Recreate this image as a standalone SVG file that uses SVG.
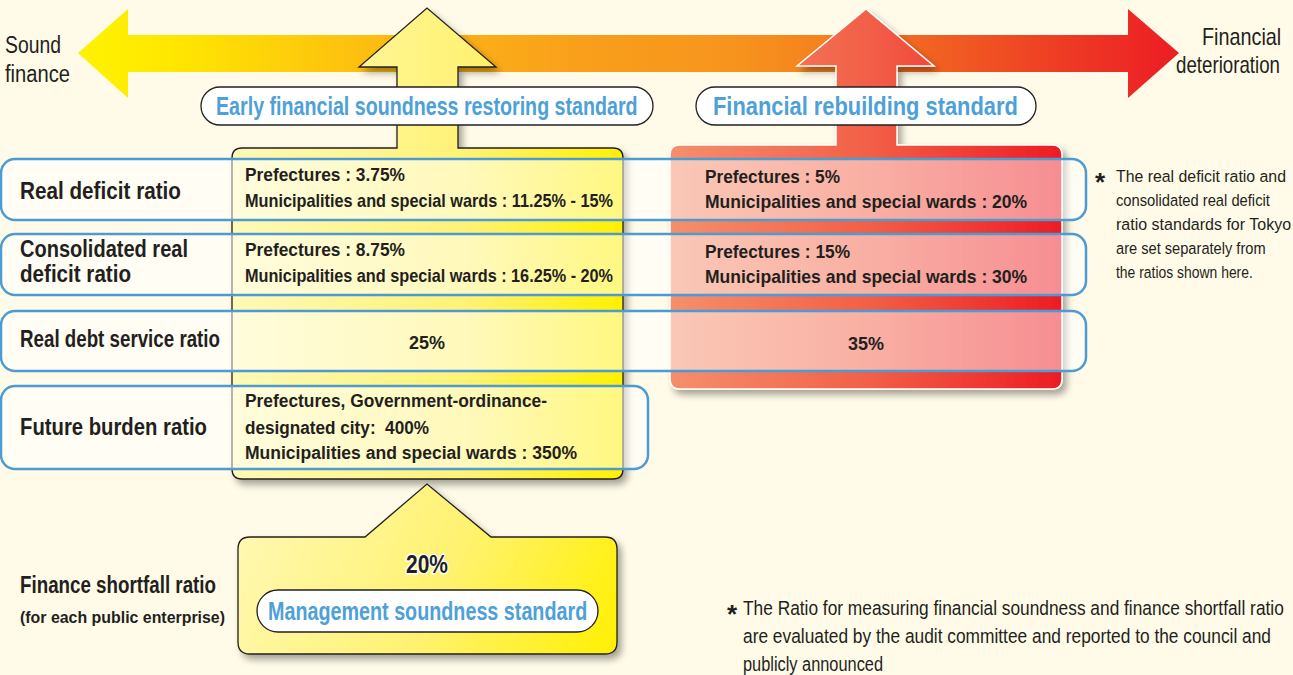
<svg xmlns="http://www.w3.org/2000/svg" width="1293" height="675" viewBox="0 0 1293 675">
<defs>
<linearGradient id="gH" gradientUnits="userSpaceOnUse" x1="78" y1="0" x2="1179" y2="0">
<stop offset="0" stop-color="#FFF200"/>
<stop offset="0.08" stop-color="#FFE800"/>
<stop offset="0.28" stop-color="#FDBA12"/>
<stop offset="0.45" stop-color="#F9A01B"/>
<stop offset="0.6" stop-color="#F7931D"/>
<stop offset="0.7" stop-color="#F47B20"/>
<stop offset="0.8" stop-color="#F15A22"/>
<stop offset="0.9" stop-color="#EE3A24"/>
<stop offset="1" stop-color="#ED1C24"/>
</linearGradient>
<linearGradient id="gY" gradientUnits="userSpaceOnUse" x1="232" y1="0" x2="623" y2="0">
<stop offset="0" stop-color="#FFF9B8"/>
<stop offset="0.6" stop-color="#FFF276"/>
<stop offset="1" stop-color="#FFF000"/>
</linearGradient>
<linearGradient id="gR" gradientUnits="userSpaceOnUse" x1="670" y1="0" x2="1062" y2="0">
<stop offset="0" stop-color="#F58F6C"/>
<stop offset="0.5" stop-color="#F26048"/>
<stop offset="1" stop-color="#ED1C24"/>
</linearGradient>
<linearGradient id="gB" gradientUnits="userSpaceOnUse" x1="238" y1="484" x2="617" y2="654">
<stop offset="0" stop-color="#FFF9B8"/>
<stop offset="0.55" stop-color="#FFF270"/>
<stop offset="1" stop-color="#FFF000"/>
</linearGradient>
<filter id="sh" x="-10%" y="-10%" width="125%" height="125%">
<feDropShadow dx="4" dy="5" stdDeviation="3.5" flood-color="#000" flood-opacity="0.35"/>
</filter>
<style>
.bg{fill:#FFFBE8}
.t{font-family:"Liberation Sans Narrow","Liberation Sans",Arial,sans-serif;fill:#231F20}
.b{font-weight:bold}
.lab{font-size:23px;font-weight:bold}
.val{font-size:18px;font-weight:bold}
.note{font-size:17px}
.note2{font-size:19.5px}
.ast{font-size:26px;font-weight:bold}
.pilltxt{font-family:"Liberation Sans Narrow","Liberation Sans",Arial,sans-serif;font-size:26px;font-weight:bold;fill:#4EA0D8}
.pill{fill:#FFFFFF;stroke:#231F20;stroke-width:1.3}
.row{fill:#FFFFFF;fill-opacity:0.5;stroke:#4B9BD4;stroke-width:2.5}
.dark{stroke:#231F20;stroke-width:1.3}
</style>
</defs>
<rect class="bg" x="0" y="0" width="1293" height="675"/>

<g id="connectors">
<path d="M78,53 L128,9 L128,35 L1128,35 L1128,9 L1179,53 L1128,98 L1128,72 L128,72 L128,98 Z" fill="url(#gH)"/>
</g>

<g id="scale-labels">
<text class="t" x="5" y="53" font-size="23" textLength="56" lengthAdjust="spacingAndGlyphs">Sound</text>
<text class="t" x="5" y="82" font-size="23" textLength="65" lengthAdjust="spacingAndGlyphs">finance</text>
<text class="t" transform="translate(1202,45) scale(0.8,1)" x="0" y="0" font-size="23" textLength="99" lengthAdjust="spacingAndGlyphs">Financial</text>
<text class="t" transform="translate(1176,73) scale(0.8,1)" x="0" y="0" font-size="23" textLength="130" lengthAdjust="spacingAndGlyphs">deterioration</text>
</g>

<g id="early-standard">
<path filter="url(#sh)" class="dark" fill="url(#gY)" d="M242,148 L397,148 L397,67 L359,67 L427,8 L496,67 L458,67 L458,148 L613,148 Q623,148 623,158 L623,469 Q623,479 613,479 L242,479 Q232,479 232,469 L232,158 Q232,148 242,148 Z"/>
<rect class="pill" x="201" y="87" width="452" height="38" rx="19"/>
<text class="pilltxt" transform="translate(216,115) scale(0.8,1)" x="0" y="0" textLength="527" lengthAdjust="spacingAndGlyphs">Early financial soundness restoring standard</text>
</g>

<g id="rebuilding-standard">
<path filter="url(#sh)" fill="url(#gR)" stroke="#FFFFFF" stroke-width="1.5" d="M680,145 L836,145 L836,66 L797,66 L866,9 L934,66 L897,66 L897,145 L1052,145 Q1062,145 1062,155 L1062,379 Q1062,389 1052,389 L680,389 Q670,389 670,379 L670,155 Q670,145 680,145 Z"/>
<rect class="pill" x="696" y="87" width="340" height="38" rx="19"/>
<text class="pilltxt" transform="translate(713,115) scale(0.8,1)" x="0" y="0" textLength="381" lengthAdjust="spacingAndGlyphs">Financial rebuilding standard</text>
</g>

<g id="row-real-deficit">
<rect class="row" x="1" y="159" width="1085" height="61" rx="14"/>
<text class="t lab" x="20" y="199" textLength="161" lengthAdjust="spacingAndGlyphs">Real deficit ratio</text>
<text class="t val" x="245" y="181" textLength="160" lengthAdjust="spacingAndGlyphs">Prefectures : 3.75%</text>
<text class="t val" transform="translate(245,207) scale(0.85,1)" x="0" y="0" textLength="433" lengthAdjust="spacingAndGlyphs">Municipalities and special wards : 11.25% - 15%</text>
<text class="t val" x="705" y="183" textLength="135" lengthAdjust="spacingAndGlyphs">Prefectures : 5%</text>
<text class="t val" transform="translate(705,208) scale(0.85,1)" x="0" y="0" textLength="379" lengthAdjust="spacingAndGlyphs">Municipalities and special wards : 20%</text>
</g>

<g id="row-consolidated">
<rect class="row" x="1" y="234" width="1085" height="61" rx="14"/>
<text class="t lab" x="20" y="257" textLength="168" lengthAdjust="spacingAndGlyphs">Consolidated real</text>
<text class="t lab" x="20" y="282" textLength="111" lengthAdjust="spacingAndGlyphs">deficit ratio</text>
<text class="t val" x="245" y="256" textLength="160" lengthAdjust="spacingAndGlyphs">Prefectures : 8.75%</text>
<text class="t val" transform="translate(245,282) scale(0.85,1)" x="0" y="0" textLength="433" lengthAdjust="spacingAndGlyphs">Municipalities and special wards : 16.25% - 20%</text>
<text class="t val" x="705" y="258" textLength="145" lengthAdjust="spacingAndGlyphs">Prefectures : 15%</text>
<text class="t val" transform="translate(705,283) scale(0.85,1)" x="0" y="0" textLength="379" lengthAdjust="spacingAndGlyphs">Municipalities and special wards : 30%</text>
</g>

<g id="row-debt-service">
<rect class="row" x="1" y="311" width="1085" height="60" rx="14"/>
<text class="t lab" x="20" y="347" textLength="200" lengthAdjust="spacingAndGlyphs">Real debt service ratio</text>
<text class="t val" x="409" y="349" textLength="36" lengthAdjust="spacingAndGlyphs">25%</text>
<text class="t val" x="848" y="350" textLength="36" lengthAdjust="spacingAndGlyphs">35%</text>
</g>

<g id="row-future-burden">
<rect class="row" x="1" y="386" width="647" height="83" rx="14"/>
<text class="t lab" x="20" y="435" textLength="187" lengthAdjust="spacingAndGlyphs">Future burden ratio</text>
<text class="t val" x="245" y="407" textLength="302" lengthAdjust="spacingAndGlyphs">Prefectures, Government-ordinance-</text>
<text class="t val" x="245" y="434" textLength="184" lengthAdjust="spacingAndGlyphs">designated city: &#160;400%</text>
<text class="t val" x="245" y="459" textLength="332" lengthAdjust="spacingAndGlyphs">Municipalities and special wards : 350%</text>
</g>

<g id="tokyo-note">
<text class="t ast" x="1095" y="191">*</text>
<text class="t note" transform="translate(1116,182) scale(0.85,1)" x="0" y="0" textLength="200" lengthAdjust="spacingAndGlyphs">The real deficit ratio and</text>
<text class="t note" transform="translate(1116,206) scale(0.85,1)" x="0" y="0" textLength="181" lengthAdjust="spacingAndGlyphs">consolidated real deficit</text>
<text class="t note" transform="translate(1116,230) scale(0.85,1)" x="0" y="0" textLength="206" lengthAdjust="spacingAndGlyphs">ratio standards for Tokyo</text>
<text class="t note" transform="translate(1116,254) scale(0.85,1)" x="0" y="0" textLength="176" lengthAdjust="spacingAndGlyphs">are set separately from</text>
<text class="t note" transform="translate(1116,278) scale(0.85,1)" x="0" y="0" textLength="161" lengthAdjust="spacingAndGlyphs">the ratios shown here.</text>
</g>

<g id="management-standard">
<path filter="url(#sh)" class="dark" fill="url(#gB)" d="M250,537 L365,537 L427,484 L491,537 L605,537 Q617,537 617,549 L617,642 Q617,654 605,654 L250,654 Q238,654 238,642 L238,549 Q238,537 250,537 Z"/>
<text class="t b" x="406" y="573" font-size="25" textLength="42" lengthAdjust="spacingAndGlyphs" stroke="#FFFFFF" stroke-width="3" paint-order="stroke" stroke-linejoin="round">20%</text>
<rect class="pill" x="257" y="590" width="341" height="42" rx="21"/>
<text class="pilltxt" transform="translate(268,620) scale(0.8,1)" x="0" y="0" textLength="399" lengthAdjust="spacingAndGlyphs">Management soundness standard</text>
</g>

<g id="shortfall-label">
<text class="t lab" x="20" y="593" textLength="196" lengthAdjust="spacingAndGlyphs">Finance shortfall ratio</text>
<text class="t b" x="20" y="623" font-size="17" textLength="205" lengthAdjust="spacingAndGlyphs">(for each public enterprise)</text>
</g>

<g id="bottom-note">
<text class="t ast" x="727" y="623">*</text>
<text class="t note2" transform="translate(743,615) scale(0.8,1)" x="0" y="0" textLength="676" lengthAdjust="spacingAndGlyphs">The Ratio for measuring financial soundness and finance shortfall ratio</text>
<text class="t note2" transform="translate(743,643) scale(0.8,1)" x="0" y="0" textLength="660" lengthAdjust="spacingAndGlyphs">are evaluated by the audit committee and reported to the council and</text>
<text class="t note2" x="743" y="671" textLength="140" lengthAdjust="spacingAndGlyphs">publicly announced</text>
</g>
</svg>
